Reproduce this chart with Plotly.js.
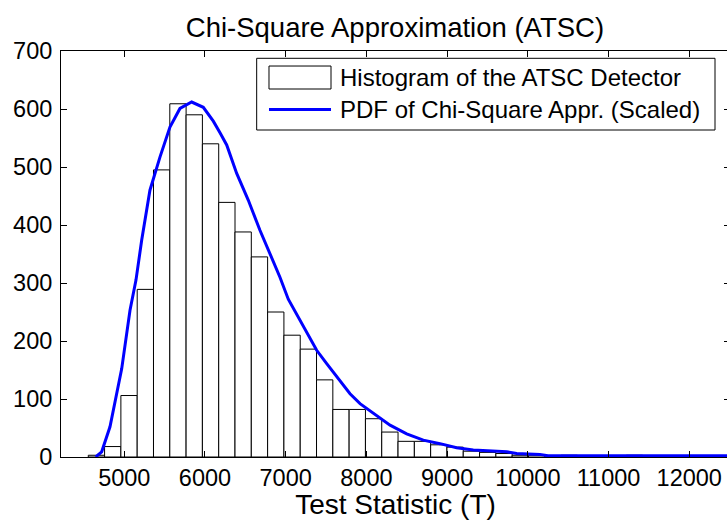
<!DOCTYPE html>
<html>
<head>
<meta charset="utf-8">
<script src="https://cdn.plot.ly/plotly-3.0.1.min.js"></script>
<style>
  html, body { margin: 0; padding: 0; overflow: hidden; background: #fff; }
  #chart { width: 730px; height: 520px; }
</style>
</head>
<body>
<div id="chart"></div>
<script>
// Histogram of the detector's test statistic (equal-width bins)
const binStart = 4554;
const binWidth = 202;
const binCounts = [3, 18, 106, 289, 495, 609, 590, 540, 439, 388,
                   345, 250, 210, 186, 133, 82, 82, 66, 43, 27,
                   27, 21, 17, 10, 8, 6, 3, 3, 0, 3,
                   0, 0, 0, 3, 0, 0, 0, 0, 0, 0];

// Scaled chi-square PDF, sampled along the test statistic
const pdfX = [4646, 4720, 4823, 4968, 5071, 5145, 5216, 5318, 5442, 5566,
              5690, 5835, 5979, 6103, 6186, 6269, 6393, 6536, 6681, 6805,
              6929, 7032, 7136, 7260, 7384, 7508, 7673, 7797, 7921, 8086,
              8293, 8499, 8705, 8912, 9118, 9324, 9531, 9738, 9862, 10150,
              10250, 10500, 11000, 11500, 12000, 12505];
const pdfY = [0, 9, 52, 152, 253, 305, 374, 460, 517, 569,
              601, 612, 603, 579, 559, 538, 489, 443, 391, 351,
              310, 272, 246, 213, 184, 161, 132, 109, 92, 75,
              55, 40, 29, 23, 16, 12, 10, 9, 6, 4.5,
              2, 2, 2, 2, 2, 2];

const xTicks = [5000, 6000, 7000, 8000, 9000, 10000, 11000, 12000];
const yTicks = [0, 100, 200, 300, 400, 500, 600, 700];
const legendLabels = ['Histogram of the ATSC Detector', 'PDF of Chi-Square Appr. (Scaled)'];

const binCenters = binCounts.map((_, i) => binStart + binWidth * (i + 0.5));

const FONT = 'Liberation Sans, Arial, Helvetica, sans-serif';

const traces = [
  {
    type: 'bar',
    x: binCenters,
    y: binCounts,
    width: binWidth,
    marker: { color: '#ffffff', line: { color: '#000000', width: 1 } },
    name: legendLabels[0],
    hoverinfo: 'x+y'
  },
  {
    type: 'scatter',
    mode: 'lines',
    x: pdfX,
    y: pdfY,
    line: { color: '#0000ff', width: 3 },
    name: legendLabels[1]
  }
];

// Legend box drawn in paper coordinates (plot area spans 0..1)
const shapes = [
  { type: 'rect', xref: 'paper', yref: 'paper', x0: 0.2925, x1: 0.9776, y0: 0.8054, y1: 0.982,
    line: { color: '#000', width: 1 }, fillcolor: '#fff', layer: 'above' },
  { type: 'rect', xref: 'paper', yref: 'paper', x0: 0.3109, x1: 0.4036, y0: 0.9064, y1: 0.963,
    line: { color: '#000', width: 1 }, fillcolor: '#fff', layer: 'above' },
  { type: 'line', xref: 'paper', yref: 'paper', x0: 0.3109, x1: 0.4036, y0: 0.8559, y1: 0.8559,
    line: { color: '#0000ff', width: 3 }, layer: 'above' }
];

const annotations = [
  { xref: 'paper', yref: 'paper', x: 0.414, y: 0.9335, xanchor: 'left', yanchor: 'middle',
    text: legendLabels[0], showarrow: false, font: { family: FONT, size: 24, color: '#000' } },
  { xref: 'paper', yref: 'paper', x: 0.414, y: 0.8547, xanchor: 'left', yanchor: 'middle',
    text: legendLabels[1], showarrow: false, font: { family: FONT, size: 24, color: '#000' } }
];

const layout = {
  width: 730,
  height: 520,
  margin: { l: 61, r: 0, t: 51, b: 63, pad: 0 },
  paper_bgcolor: '#ffffff',
  plot_bgcolor: '#ffffff',
  showlegend: false,
  bargap: 0,
  font: { family: FONT, color: '#000' },
  title: {
    text: 'Chi-Square Approximation (ATSC)',
    font: { family: FONT, size: 27.5, color: '#000' },
    x: 0.541, xanchor: 'center',
    y: 1 - 27 / 520, yanchor: 'middle', yref: 'container'
  },
  xaxis: {
    range: [4216, 12505],
    tickvals: xTicks,
    ticktext: xTicks.map(String),
    ticks: 'inside', ticklen: 6, tickcolor: '#000', tickwidth: 1,
    showline: true, linecolor: '#000', linewidth: 1, mirror: 'ticks',
    showgrid: false, zeroline: false,
    tickfont: { family: FONT, size: 23.5, color: '#000' },
    title: { text: 'Test Statistic (T)', font: { family: FONT, size: 28, color: '#000' }, standoff: 5 }
  },
  yaxis: {
    range: [0, 700],
    tickvals: yTicks,
    ticktext: yTicks.map(String),
    ticks: 'inside', ticklen: 6, tickcolor: '#000', tickwidth: 1,
    showline: true, linecolor: '#000', linewidth: 1, mirror: 'ticks',
    showgrid: false, zeroline: false,
    ticklabelstandoff: 3,
    tickfont: { family: FONT, size: 23.5, color: '#000' }
  },
  shapes: shapes,
  annotations: annotations
};

Plotly.newPlot('chart', traces, layout, { displayModeBar: false, staticPlot: true });
</script>
</body>
</html>
